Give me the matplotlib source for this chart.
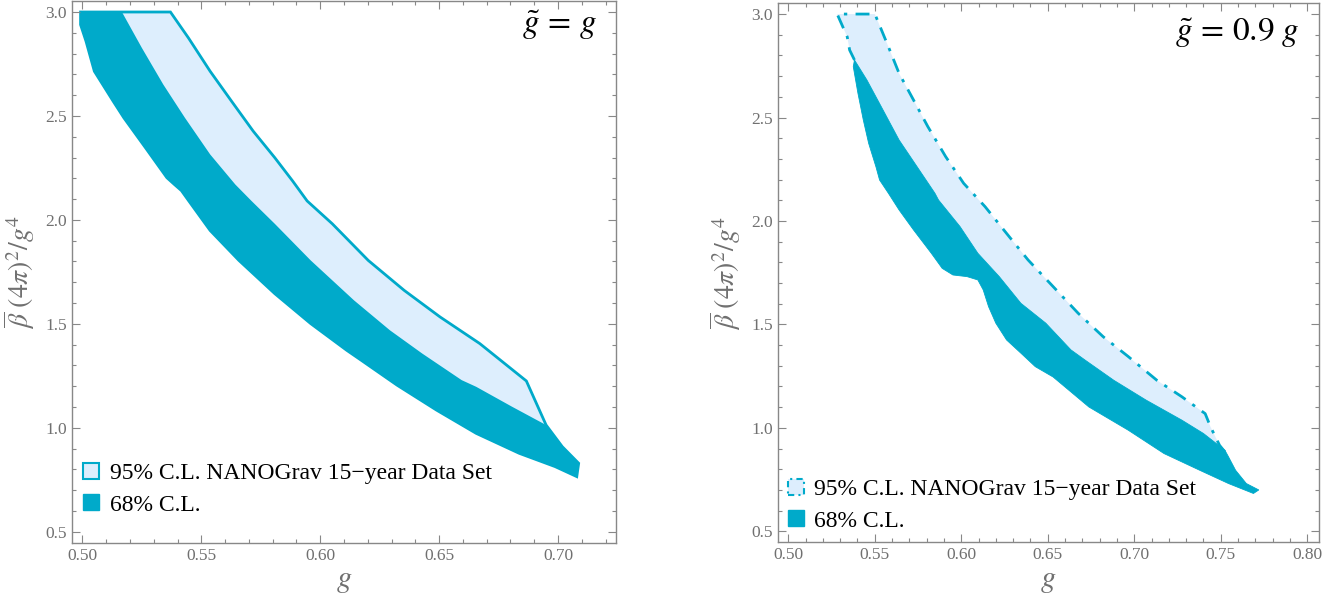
import numpy as np
import matplotlib.pyplot as plt
from matplotlib.patches import Patch
from matplotlib.ticker import MultipleLocator

plt.rcParams['font.family'] = ['Liberation Serif', 'DejaVu Serif']
plt.rcParams['mathtext.fontset'] = 'stix'

# colours
dark = '#00aaca'
light = '#ddeefd'
grey = '#707070'

# ---- left panel (g~ = g) ----
# 95% C.L. outer boundary (top edge, then upper-right edge down to the kink and the tip)
L95_g = [0.4992, 0.537, 0.5446, 0.5537, 0.5627, 0.5718, 0.5809, 0.5884, 0.5945, 0.6051,
         0.6202, 0.6353, 0.6504, 0.6671, 0.6867, 0.6950, 0.7018, 0.7087]
L95_b = [3.0, 3.0, 2.875, 2.715, 2.571, 2.427, 2.299, 2.187, 2.091, 1.981,
         1.805, 1.661, 1.533, 1.405, 1.225, 1.013, 0.909, 0.829]
# 68% C.L. upper-right edge
L68_up_g = [0.4992, 0.5166, 0.525, 0.534, 0.5431, 0.5537, 0.5643, 0.5711, 0.5809, 0.596,
            0.6142, 0.6293, 0.6429, 0.6595, 0.6656, 0.6807, 0.6950, 0.7018, 0.7087]
L68_up_b = [3.0, 3.0, 2.827, 2.651, 2.491, 2.315, 2.17, 2.091, 1.981, 1.805,
            1.613, 1.469, 1.357, 1.229, 1.197, 1.101, 1.013, 0.909, 0.829]
# 68% C.L. lower-left edge (from the tip back to the top)
L68_lo_g = [0.7079, 0.6988, 0.6837, 0.6656, 0.6489, 0.6323, 0.6172, 0.6111, 0.596, 0.5809,
            0.5658, 0.5537, 0.5446, 0.5416, 0.5386, 0.5355, 0.5265, 0.5174, 0.5129, 0.505,
            0.5015, 0.4992]
L68_lo_b = [0.765, 0.813, 0.877, 0.973, 1.085, 1.205, 1.325, 1.373, 1.501, 1.645,
            1.805, 1.949, 2.093, 2.141, 2.171, 2.203, 2.347, 2.491, 2.571, 2.715,
            2.859, 2.939]

# ---- right panel (g~ = 0.9 g) ----
R95_g = [0.5383, 0.5355, 0.5341, 0.5283, 0.5501, 0.5579, 0.5641, 0.5724, 0.5807, 0.591,
         0.6014, 0.6138, 0.6262, 0.6386, 0.6531, 0.6676, 0.682, 0.6965, 0.7131, 0.7276,
         0.741, 0.7441, 0.7493, 0.7524]
R95_b = [2.778, 2.826, 2.89, 3.0, 3.0, 2.842, 2.713, 2.585, 2.456, 2.311,
         2.182, 2.069, 1.94, 1.812, 1.683, 1.554, 1.441, 1.345, 1.23, 1.15,
         1.069, 1.005, 0.916, 0.884]
R68_up_g = [0.5383, 0.5455, 0.5538, 0.5641, 0.5745, 0.5848, 0.5869, 0.5993, 0.6096, 0.622,
            0.6345, 0.6489, 0.6634, 0.6717, 0.6882, 0.7069, 0.7276, 0.74, 0.7524, 0.7545,
            0.7586, 0.7648, 0.772]
R68_up_b = [2.778, 2.681, 2.552, 2.391, 2.262, 2.134, 2.101, 1.973, 1.844, 1.731,
            1.602, 1.506, 1.377, 1.327, 1.23, 1.134, 1.037, 0.973, 0.892, 0.86,
            0.795, 0.731, 0.70]
R68_lo_g = [0.7689, 0.7545, 0.7379, 0.7172, 0.6965, 0.6738, 0.6531, 0.6428, 0.6345, 0.6262,
            0.62, 0.6158, 0.6127, 0.6096, 0.6034, 0.5952, 0.589, 0.5827, 0.5724, 0.5641,
            0.5579, 0.5528, 0.5507, 0.5465, 0.5434, 0.5403, 0.5376]
R68_lo_b = [0.683, 0.731, 0.795, 0.876, 0.989, 1.101, 1.246, 1.296, 1.361, 1.425,
            1.506, 1.586, 1.667, 1.715, 1.731, 1.739, 1.771, 1.844, 1.957, 2.053,
            2.134, 2.198, 2.262, 2.375, 2.488, 2.617, 2.746]

label95 = '95% C.L. NANOGrav 15\u2212year Data Set'
label68 = '68% C.L.'

fig = plt.figure(figsize=(13.39, 6.02), dpi=100)
axL = fig.add_axes([72 / 1339, 1 - 542.7 / 602, 544 / 1339, 541.5 / 602])
axR = fig.add_axes([777.5 / 1339, 1 - 542.3 / 602, 541.5 / 1339, 539 / 602])


def style(ax, xlim, xmaj):
    ax.set_xlim(*xlim)
    ax.set_ylim(0.447, 3.052)
    ax.xaxis.set_major_locator(MultipleLocator(xmaj))
    ax.xaxis.set_minor_locator(MultipleLocator(xmaj / 5))
    ax.yaxis.set_major_locator(MultipleLocator(0.5))
    ax.yaxis.set_minor_locator(MultipleLocator(0.1))
    ax.tick_params(which='both', direction='in', top=True, right=True,
                   color='#888888', labelcolor=grey, labelsize=12.5, width=0.8)
    ax.tick_params(which='major', length=5.5)
    ax.tick_params(which='minor', length=3)
    ax.xaxis.set_major_formatter(plt.FormatStrFormatter('%.2f'))
    ax.yaxis.set_major_formatter(plt.FormatStrFormatter('%.1f'))
    for s in ax.spines.values():
        s.set_color('#888888')
        s.set_linewidth(1.0)
    ax.set_xlabel('$g$', fontsize=22, color=grey, labelpad=2)
    ax.set_ylabel(r'$\overline{\beta}\ (4\pi)^2/g^4$', fontsize=20, color=grey, labelpad=6)


leg_kw = dict(loc='lower left', frameon=False, fontsize=17, handlelength=0.68, handleheight=0.68,
              handletextpad=0.45, labelspacing=0.42, borderpad=0, borderaxespad=0)

# left
axL.fill(L95_g + L68_lo_g, L95_b + L68_lo_b, facecolor=light, edgecolor=dark, lw=2)
axL.fill(L68_up_g + L68_lo_g, L68_up_b + L68_lo_b, facecolor=dark, edgecolor='none')
style(axL, (0.4956, 0.7244), 0.05)
axL.text(0.965, 0.955, r'$\tilde{g}\,=\,g$', transform=axL.transAxes, ha='right', va='center',
         fontsize=24)
hL = [Patch(facecolor=light, edgecolor=dark, lw=1.5, label=label95),
      Patch(facecolor=dark, edgecolor=dark, label=label68)]
axL.legend(handles=hL, bbox_to_anchor=(0.02, 0.05), **leg_kw)

# right
axR.fill(R95_g + R68_up_g[-5:] + R68_lo_g, R95_b + R68_up_b[-5:] + R68_lo_b,
         facecolor=light, edgecolor='none')
axR.plot(R95_g, R95_b, color=dark, lw=2, linestyle=(0, (5, 3, 1.2, 3)))
axR.fill(R68_up_g + R68_lo_g, R68_up_b + R68_lo_b, facecolor=dark, edgecolor=dark, lw=0.6)
style(axR, (0.4938, 0.8068), 0.05)
axR.text(0.965, 0.945, r'$\tilde{g}\,=\,0.9\ g$', transform=axR.transAxes, ha='right', va='center',
         fontsize=24)
hR = [Patch(facecolor=light, edgecolor=dark, lw=1.5, linestyle=(0, (3, 2, 1, 2)), label=label95),
      Patch(facecolor=dark, edgecolor=dark, label=label68)]
axR.legend(handles=hR, bbox_to_anchor=(0.019, 0.02), **leg_kw)

fig.savefig('out.png', dpi=100)
